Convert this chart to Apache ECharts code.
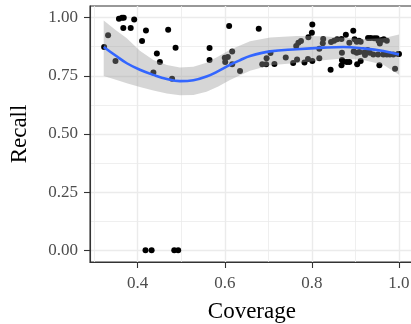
<!DOCTYPE html>
<html>
<head>
<meta charset="utf-8">
<script src="https://cdn.jsdelivr.net/npm/echarts@6/dist/echarts.min.js"></script>
<style>
  html, body { margin: 0; padding: 0; background: #fff; }
  #chart { width: 411px; height: 324px; }
</style>
</head>
<body>
<div id="chart"></div>
<script>
const coverage = [
  0.323, 0.332, 0.349, 0.357, 0.364, 0.368, 0.367, 0.384, 0.392, 0.419,
  0.410, 0.444, 0.451, 0.436, 0.470, 0.487, 0.479, 0.565, 0.565, 0.610,
  0.600, 0.607, 0.601, 0.617, 0.617, 0.635, 0.678, 0.686, 0.695, 0.696,
  0.705, 0.714, 0.740, 0.757, 0.766, 0.764, 0.769, 0.775, 0.783, 0.791,
  0.792, 0.800, 0.801, 0.801, 0.817, 0.817, 0.825, 0.826, 0.843, 0.844,
  0.851, 0.858, 0.868, 0.869, 0.869, 0.868, 0.872, 0.880, 0.886, 0.878,
  0.886, 0.895, 0.898, 0.903, 0.908, 0.896, 0.903, 0.909, 0.912, 0.904,
  0.912, 0.920, 0.922, 0.929, 0.935, 0.943, 0.949, 0.953, 0.960, 0.965,
  0.972, 0.928, 0.933, 0.941, 0.952, 0.964, 0.956, 0.955, 0.972, 0.979,
  0.987, 0.998, 1.000, 0.991, 0.418, 0.432, 0.484, 0.493,
];
const recall = [
  0.874, 0.924, 0.814, 0.995, 1.000, 1.000, 0.956, 0.956, 0.992, 0.945,
  0.900, 0.846, 0.809, 0.764, 0.948, 0.871, 0.737, 0.869, 0.818, 0.964,
  0.828, 0.831, 0.809, 0.854, 0.800, 0.771, 0.952, 0.800, 0.800, 0.826,
  0.848, 0.801, 0.829, 0.805, 0.820, 0.878, 0.892, 0.900, 0.807, 0.822,
  0.916, 0.935, 0.971, 0.814, 0.866, 0.825, 0.890, 0.908, 0.776, 0.895,
  0.901, 0.907, 0.908, 0.849, 0.818, 0.795, 0.811, 0.809, 0.809, 0.926,
  0.892, 0.944, 0.907, 0.896, 0.901, 0.854, 0.849, 0.852, 0.814, 0.800,
  0.896, 0.849, 0.839, 0.913, 0.913, 0.911, 0.911, 0.901, 0.904, 0.907,
  0.901, 0.861, 0.849, 0.842, 0.842, 0.842, 0.889, 0.795, 0.842, 0.842,
  0.842, 0.844, 0.844, 0.780, 0, 0, 0, 0,
];

// loess fit and its confidence band
const smoothCoverage = [0.322, 0.35, 0.375, 0.405, 0.436, 0.467, 0.497, 0.528, 0.558, 0.585,
  0.612, 0.635, 0.658, 0.704, 0.765, 0.826, 0.872, 0.918, 0.964, 1.0];
const smoothFit = [0.874, 0.836, 0.804, 0.776, 0.754, 0.736, 0.727, 0.731, 0.747, 0.770,
  0.797, 0.817, 0.835, 0.855, 0.864, 0.871, 0.874, 0.868, 0.857, 0.842];
const smoothLower = [0.749, 0.733, 0.718, 0.702, 0.687, 0.674, 0.666, 0.668, 0.682, 0.704,
  0.732, 0.752, 0.772, 0.795, 0.805, 0.817, 0.824, 0.818, 0.798, 0.755];
const smoothUpper = [0.988, 0.946, 0.911, 0.858, 0.818, 0.796, 0.786, 0.789, 0.806, 0.833,
  0.862, 0.880, 0.898, 0.915, 0.921, 0.920, 0.914, 0.908, 0.911, 0.928];

const recallTicks = [0, 0.25, 0.5, 0.75, 1];

const font = "Liberation Serif";
const gridColor = "#EBEBEB";
const tickColor = "#333333";
const labelColor = "#4D4D4D";

const chart = echarts.init(document.getElementById("chart"), null, { renderer: "canvas" });

chart.setOption({
  animation: false,
  grid: [
    // panel, 5% expansion on both scales
    { left: 90, right: -2.7, top: 6, bottom: 62, outerBoundsMode: "none", containLabel: false,
      show: true, borderColor: tickColor, borderWidth: 1.1 },
    // same panel, only the 0..1 span of the recall axis
    { left: 90, right: -2.7, top: 17.636, bottom: 73.636, outerBoundsMode: "none", containLabel: false },
  ],
  xAxis: [
    {
      type: "value",
      gridIndex: 0,
      min: 0.2905,
      max: 1.0338,
      splitNumber: 4,
      axisLine: { show: true, onZero: false, lineStyle: { color: tickColor, width: 1.1 } },
      axisTick: { show: true, length: 6, lineStyle: { color: tickColor, width: 1.1 } },
      axisLabel: {
        margin: 13,
        color: labelColor,
        fontFamily: font,
        fontSize: 17,
        showMinLabel: false,
        showMaxLabel: false,
        formatter: (v) => v.toFixed(1),
      },
      splitLine: { show: true, showMinLine: false, showMaxLine: false, lineStyle: { color: gridColor, width: 1.4 } },
      minorTick: { show: false, splitNumber: 2 },
      minorSplitLine: { show: true, lineStyle: { color: gridColor, width: 0.8 } },
      name: "Coverage",
      nameLocation: "middle",
      nameGap: 38,
      nameTextStyle: { color: "#000", fontFamily: font, fontSize: 23 },
    },
    { type: "value", gridIndex: 1, min: 0, max: 1, show: false },
  ],
  yAxis: [
    {
      type: "value",
      gridIndex: 0,
      min: -0.05,
      max: 1.05,
      axisLine: { show: true, onZero: false, lineStyle: { color: tickColor, width: 1.1 } },
      axisTick: { show: false },
      axisLabel: { show: false },
      splitLine: { show: false },
      name: "Recall",
      nameLocation: "middle",
      nameGap: 59,
      nameTextStyle: { color: "#000", fontFamily: font, fontSize: 23 },
    },
    {
      type: "value",
      gridIndex: 1,
      min: recallTicks[0],
      max: recallTicks[recallTicks.length - 1],
      interval: recallTicks[1] - recallTicks[0],
      axisLine: { show: false, onZero: false },
      axisTick: { show: true, length: 6, lineStyle: { color: tickColor, width: 1.1 } },
      axisLabel: {
        margin: 12,
        color: labelColor,
        fontFamily: font,
        fontSize: 17,
        formatter: (v) => v.toFixed(2),
      },
      splitLine: { show: true, lineStyle: { color: gridColor, width: 1.4 } },
      minorTick: { show: false, splitNumber: 2 },
      minorSplitLine: { show: true, lineStyle: { color: gridColor, width: 0.8 } },
    },
  ],
  series: [
    {
      type: "scatter",
      xAxisIndex: 0,
      yAxisIndex: 0,
      z: 2,
      symbolSize: 6,
      itemStyle: { color: "#000", opacity: 1 },
      data: coverage.map((c, i) => [c, recall[i]]),
    },
    {
      type: "custom",
      xAxisIndex: 0,
      yAxisIndex: 0,
      z: 3,
      silent: true,
      data: [[smoothCoverage[0], smoothFit[0]]],
      renderItem: (params, api) => {
        const upper = smoothCoverage.map((c, i) => api.coord([c, smoothUpper[i]]));
        const lower = smoothCoverage.map((c, i) => api.coord([c, smoothLower[i]])).reverse();
        return {
          type: "polygon",
          shape: { points: upper.concat(lower) },
          style: { fill: "rgba(153,153,153,0.4)", stroke: null },
        };
      },
    },
    {
      type: "line",
      xAxisIndex: 0,
      yAxisIndex: 0,
      z: 4,
      showSymbol: false,
      smooth: 0.4,
      lineStyle: { color: "#3366FF", width: 2.6 },
      data: smoothCoverage.map((c, i) => [c, smoothFit[i]]),
    },
  ],
});
</script>
</body>
</html>
